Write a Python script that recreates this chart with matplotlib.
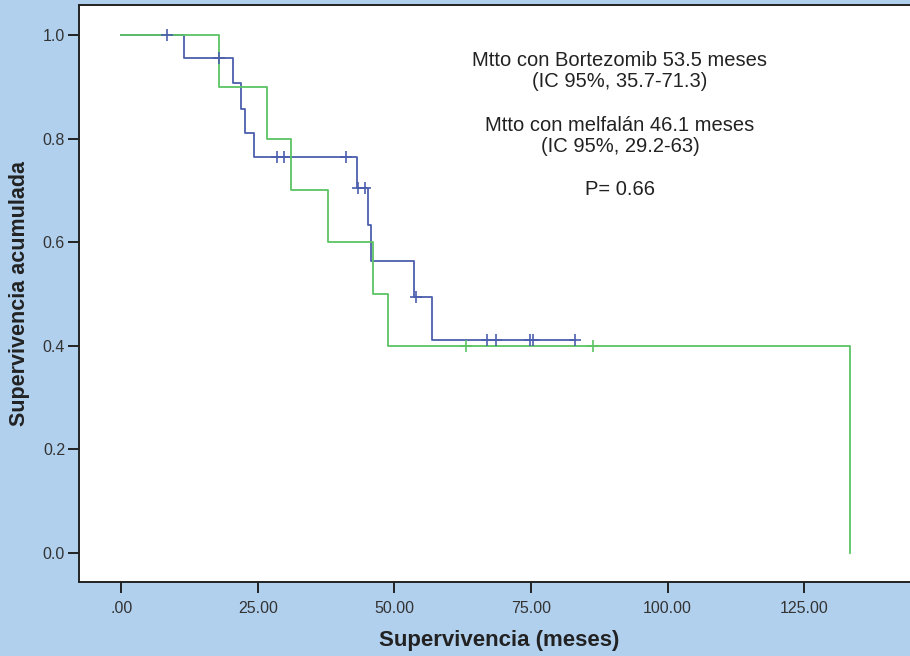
import matplotlib
matplotlib.use("Agg")
import matplotlib.pyplot as plt
import numpy as np

# ---- data ----
times_b = [0, 11.5, 20.5, 22.0, 22.7, 24.3, 43.1, 45.1, 45.8, 53.6, 56.8]
surv_b = [1.0, 0.955, 0.907, 0.858, 0.810, 0.764, 0.704, 0.633, 0.564, 0.495, 0.411]
end_b = 83.1
censor_b = [8.4, 17.9, 28.6, 29.8, 41.2, 43.3, 44.7, 54.0, 66.9, 68.6, 74.9, 75.4, 83.1]

times_g = [0, 17.9, 26.6, 31.1, 37.8, 46.1, 48.8, 133.3]
surv_g = [1.0, 0.9, 0.8, 0.7, 0.6, 0.5, 0.4, 0.0]
end_g = 133.3
censor_g = [63.2, 86.3]

xticks = [0, 25, 50, 75, 100, 125]
xticklabels = [".00", "25.00", "50.00", "75.00", "100.00", "125.00"]
yticks = [0.0, 0.2, 0.4, 0.6, 0.8, 1.0]
yticklabels = ["0.0", "0.2", "0.4", "0.6", "0.8", "1.0"]

annot = ["Mtto con Bortezomib 53.5 meses\n(IC 95%, 35.7-71.3)",
         "Mtto con melfalán 46.1 meses\n(IC 95%, 29.2-63)",
         "P= 0.66"]

plt.rcParams['font.family'] = ['Liberation Sans', 'DejaVu Sans']

BLUE = "#4c5fae"
GREEN = "#5cc462"
BG = "#b1d0ee"

W, H = 910, 656
fig = plt.figure(figsize=(W / 100, H / 100), dpi=100, facecolor=BG)
ax = fig.add_axes([79 / W, (H - 582) / H, 1.0 - 79 / W + 0.01, (582 - 5) / H])
ax.set_facecolor("white")


def step_lookup(times, surv, t):
    idx = np.searchsorted(np.asarray(times), t, side="right") - 1
    return np.asarray(surv)[idx]


def draw_km(times, surv, end, censor, color):
    xs = list(times) + [end]
    ys = list(surv) + [surv[-1]]
    ax.step(xs, ys, where="post", color=color, lw=1.3, zorder=3)
    cy = [step_lookup(times, surv, c) for c in censor]
    ax.plot(censor, cy, linestyle="none", marker="+", markersize=9,
            markeredgewidth=1.2, color=color, zorder=4)


draw_km(times_b, surv_b, end_b, censor_b, BLUE)
draw_km(times_g, surv_g, end_g, censor_g, GREEN)

ax.set_xlim((79 - 121) / 5.44, (910 - 121) / 5.44 + 1)
ax.set_ylim((553 - 582) / 518, (553 - 5) / 518)

ax.set_xticks(xticks)
ax.set_xticklabels(xticklabels)
ax.set_yticks(yticks)
ax.set_yticklabels(yticklabels)
ax.tick_params(axis="both", direction="out", length=8, width=1.4,
               color="#222222", labelcolor="#333333", labelsize=11.5)
ax.tick_params(axis="x", pad=6)
ax.tick_params(axis="y", pad=2)
for s in ["left", "bottom", "top"]:
    ax.spines[s].set_color("#222222")
    ax.spines[s].set_linewidth(1.4)
ax.spines["right"].set_visible(False)

ax.set_xlabel("Supervivencia (meses)", fontsize=16, fontweight="bold",
              color="#222222", labelpad=10)
ax.set_ylabel("Supervivencia acumulada", fontsize=15.5, fontweight="bold",
              color="#222222", labelpad=9)

cx = 620 / W
fig.text(cx, 1 - 71 / H, annot[0], ha="center", va="center", fontsize=14.5,
         color="#222222", linespacing=1.15)
fig.text(cx, 1 - 136 / H, annot[1], ha="center", va="center", fontsize=14.5,
         color="#222222", linespacing=1.15)
fig.text(cx, 1 - 190 / H, annot[2], ha="center", va="center", fontsize=14.5,
         color="#222222")

fig.savefig("out.png", dpi=100, facecolor=BG)
